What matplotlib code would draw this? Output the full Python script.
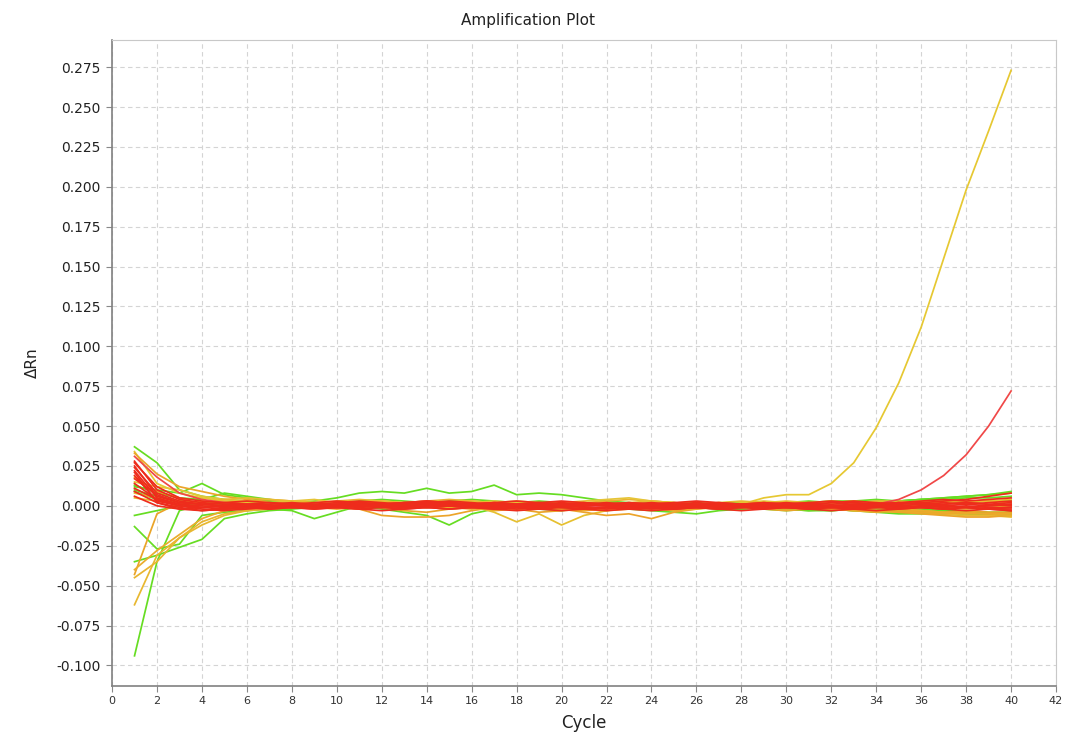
import numpy as np
import matplotlib
matplotlib.use("Agg")
import matplotlib.pyplot as plt

# cycles 1..40, delta Rn values in thousandths
cycles = list(range(1, 41))

green_curves = [
    [37, 27, 10, 6, 4, 3, 2, 1, 0, 1,
     2, 1, 0, 1, 0, -1, 0, 1, 0, -1,
     0, 1, 0, -1, 0, 1, 0, -1, 0, 1,
     1, 2, 2, 3, 3, 4, 5, 6, 7, 9],
    [-94, -35, -3, 1, 2, 1, 0, -1, 0, 1,
     0, -1, 1, 0, -1, 0, 1, 0, -1, 0,
     1, 0, -1, -2, -1, 0, -1, -2, -1, -2,
     -3, -2, -3, -4, -3, -4, -5, -5, -6, -6],
    [-35, -31, -26, -21, -8, -5, -3, -2, -1, 0,
     1, 0, 1, 2, 1, 0, 1, 2, 1, 0,
     1, 2, 1, 0, 1, 2, 1, 2, 1, 2,
     2, 3, 3, 2, 3, 4, 4, 5, 5, 6],
    [-13, -27, -24, -6, -4, -3, -2, -1, 0, 1,
     0, -1, 0, -1, 0, 1, 0, -1, 0, -1,
     -2, -1, 0, -1, -2, -1, -2, -1, -2, -3,
     -2, -3, -2, -3, -4, -3, -4, -4, -5, -4],
    [13, 8, 5, 4, 8, 6, 4, 2, 3, 5,
     8, 9, 8, 11, 8, 9, 13, 7, 8, 7,
     5, 3, 2, 1, 0, 1, 0, 1, 0, -1,
     0, -1, 0, -1, -2, -2, -3, -3, -4, -4],
    [9, 4, 2, 1, 0, -1, -2, -3, -8, -4,
     0, -2, -4, -6, -12, -5, -2, 0, -2, -3,
     -1, 0, -2, -3, -4, -5, -3, -2, -1, -2,
     -3, -3, -2, -4, -5, -5, -5, -6, -6, -6],
    [12, 10, 8, 14, 7, 5, 3, 2, 1, 0,
     1, 2, 1, 0, 1, 2, 1, 0, 1, 2,
     1, 0, 1, 2, 1, 0, 1, 2, 1, 2,
     3, 2, 3, 4, 3, 4, 5, 6, 7, 8],
    [-6, -3, 0, 2, 1, 0, -1, 0, 1, 0,
     -1, 0, 1, 0, -1, 0, 1, 0, -1, -2,
     -1, 0, -1, 0, 1, 0, -1, 0, 1, 0,
     -1, 0, 1, 2, 1, 2, 3, 2, 3, 3],
    [10, 6, 3, 2, 1, 2, 3, 2, 1, 2,
     3, 4, 3, 2, 3, 4, 3, 2, 3, 2,
     1, 2, 1, 0, -1, 0, -1, 0, 1, 0,
     -1, -2, -3, -2, -3, -4, -3, -4, -5, -5],
]

yellow_curves = [
    [34, 14, 8, 5, 3, 2, 1, 0, 1, 2,
     0, -1, 0, 1, 0, 1, 0, -1, 0, 1,
     0, 1, 0, -1, 0, 1, 0, 1, 5, 7,
     7, 14, 27, 49, 77, 112, 155, 198, 235, 273],
    [-62, -31, -20, -12, -6, -3, -1, 0, 1, 0,
     1, 2, 1, 0, 1, 2, 1, 0, 1, 0,
     -1, 0, 1, 0, -1, 0, 1, 0, -1, 0,
     -1, -2, -3, -3, -4, -4, -5, -6, -6, -7],
    [-43, -5, 2, 3, 2, 3, 4, 3, 2, 1,
     0, -1, -3, -4, -2, -1, -3, -2, -4, -3,
     -2, -3, -1, 0, 1, 0, 1, 0, -1, 0,
     -1, -2, -2, -3, -2, -3, -4, -3, -4, -4],
    [5, 3, 2, 1, 0, 1, 2, 1, 0, 1,
     2, 1, 0, 1, 2, 0, -4, -10, -5, -12,
     -6, -3, -2, -1, 0, -1, 0, -1, 0, 1,
     0, 1, 2, 1, 2, 3, 2, 3, 3, 4],
    [-45, -35, -20, -10, -5, -3, -2, -1, 0, 1,
     2, 3, 2, 3, 4, 3, 2, 3, 2, 1,
     2, 3, 4, 3, 2, 1, 2, 1, 2, 1,
     2, 1, 0, -1, 0, -1, -2, -1, -2, -1],
    [33, 20, 12, 9, 6, 4, 2, 1, 0, -1,
     -2, -6, -7, -7, -6, -3, -1, 0, -1, -2,
     -4, -6, -5, -8, -4, -2, 0, -1, -2, -3,
     -2, -1, -2, -3, -4, -5, -6, -7, -7, -6],
    [15, 12, 10, 6, 4, 3, 2, 3, 4, 2,
     1, 0, -1, 0, 1, 2, 3, 2, 1, 2,
     3, 4, 5, 3, 2, 1, 0, 2, 3, 2,
     1, 2, 3, 2, 1, 0, -1, -2, -1, 0],
    [-40, -28, -18, -8, -3, -1, 0, 1, 2, 1,
     0, 1, 0, -1, 0, 1, 0, -1, 0, 1,
     0, -1, 0, 1, 0, -1, 0, 1, 2, 1,
     0, -1, -2, -1, -2, -3, -4, -5, -5, -6],
    [8, 5, 3, 2, 4, 5, 4, 3, 2, 3,
     4, 3, 2, 1, 2, 3, 2, 1, 0, 1,
     2, 1, 2, 3, 2, 1, 2, 3, 2, 3,
     2, 3, 2, 3, 3, 2, 3, 2, 3, 2],
    [18, 9, 5, 1, -1, -2, -1, 0, -1, -2,
     -1, 0, 1, 0, -1, -2, -1, 0, -1, -2,
     -3, -2, -1, -2, -3, -2, -1, 0, -1, -2,
     -1, -2, -3, -4, -3, -4, -5, -4, -5, -5],
]
yellow_colors = ["#e6c832", "#e8b830", "#eaa428", "#e6c030", "#e8b430",
                 "#eca42a", "#e6c436", "#eaac2c", "#e8bc30", "#eca82a"]

red_curves = [
    [31, 18, 8, 4, 2, 1, 0, 1, 0, -1,
     0, 1, 0, -1, 0, 1, 0, -1, 0, 1,
     0, -1, 0, 1, 0, -1, 0, 1, 0, 0,
     1, 0, 1, 1, 4, 10, 19, 32, 50, 72],
    [28, 10, 4, 2, 1, 0, -1, 0, 1, 0,
     -1, 0, 1, 2, 1, 0, -1, 0, 1, 0,
     -1, -2, -1, 0, 1, 0, -1, 0, 1, 0,
     -1, 0, 1, 0, -1, 0, 1, 2, 1, 2],
    [25, 6, 2, 1, 0, 1, 2, 1, 0, -1,
     0, 1, 2, 3, 2, 1, 2, 3, 2, 1,
     0, 1, 2, 1, 0, 1, 0, -1, 0, -1,
     0, -1, 0, 1, 0, -1, -2, -1, -2, -3],
    [22, 5, 1, -1, -2, -1, 0, -1, -2, -1,
     0, -1, -2, -1, 0, -1, -2, -3, -2, -1,
     -2, -1, 0, -1, -2, -1, -2, -1, 0, -1,
     -2, -1, -2, -1, -2, -1, -2, -3, -2, -3],
    [19, 3, 0, -2, -3, -2, -1, 0, -1, 0,
     1, 0, -1, 0, 1, 0, -1, -2, -1, 0,
     1, 0, -1, -2, -1, 0, 1, 0, -1, 0,
     1, 0, -1, 0, 1, 2, 3, 4, 6, 8],
    [11, 4, 1, 0, -1, 0, 1, 2, 1, 2,
     3, 2, 1, 2, 3, 2, 1, 0, 1, 2,
     1, 0, 1, 2, 1, 2, 1, 0, 1, 2,
     1, 2, 3, 2, 1, 2, 1, 2, 1, 0],
    [9, 2, -1, -3, -2, -1, 0, -1, 0, 1,
     0, -1, 0, -1, -2, -1, 0, -1, 0, -1,
     -2, -3, -2, -1, 0, -1, -2, -1, 0, -1,
     -2, -1, 0, -1, 0, 1, 0, 1, 0, 1],
    [6, 0, -2, -3, -2, -1, -2, -1, 0, 1,
     2, 1, 0, 1, 2, 1, 0, 1, 0, -1,
     0, 1, 0, -1, -2, -1, 0, 1, 0, 1,
     0, -1, 0, 1, 2, 1, 0, -1, -2, -2],
    [21, 2, -2, -1, 0, 1, 0, -1, 0, 1,
     2, 1, 2, 1, 0, 1, 2, 1, 0, 1,
     2, 1, 0, 1, 2, 3, 2, 1, 2, 1,
     2, 3, 2, 1, 2, 3, 4, 3, 4, 5],
    [24, 8, 3, 1, 0, -1, 0, 1, 0, -1,
     -2, -1, 0, 1, 0, -1, 0, 1, 2, 1,
     0, 1, 0, -1, 0, 1, 0, -1, -2, -1,
     0, -1, -2, -1, 0, -1, 0, -1, 0, 1],
    [27, 12, 5, 3, 2, 3, 2, 1, 2, 3,
     2, 1, 2, 3, 2, 1, 2, 1, 2, 3,
     2, 1, 2, 1, 2, 1, 2, 1, 2, 1,
     2, 1, 2, 1, 2, 1, 2, 1, 2, 3],
    [14, 4, 0, -1, 0, -1, -2, -1, -2, -1,
     -2, -3, -2, -1, -2, -1, -2, -1, -2, -3,
     -2, -1, -2, -3, -2, -1, -2, -3, -2, -1,
     -2, -3, -2, -3, -2, -1, -2, -1, -2, -1],
    [17, 7, 2, 1, 2, 1, 0, 1, 0, 0,
     1, 0, -1, 0, 1, 0, 1, 0, -1, 0,
     1, 2, 1, 0, -1, 0, 1, 0, -1, 0,
     1, 0, -1, 0, -1, 0, -1, 0, -1, -1],
]
red_colors = ["#f04848"] + ["#ee2c1c"] * 12

x_ticks = list(range(0, 43, 2))
y_ticks = [-0.100, -0.075, -0.050, -0.025, 0.000, 0.025, 0.050, 0.075,
           0.100, 0.125, 0.150, 0.175, 0.200, 0.225, 0.250, 0.275]

fig = plt.figure(figsize=(10.68, 7.42), dpi=100)
ax = fig.add_axes([0.1049, 0.0755, 0.8839, 0.8706])

for vals in green_curves:
    ax.plot(cycles, np.array(vals) / 1000, color="#66dd22", lw=1.25)
for vals, c in zip(yellow_curves, yellow_colors):
    ax.plot(cycles, np.array(vals) / 1000, color=c, lw=1.25)
for vals, c in zip(red_curves, red_colors):
    ax.plot(cycles, np.array(vals) / 1000, color=c, lw=1.25)

ax.set_xlim(0, 42)
ax.set_ylim(-0.1129, 0.2920)
ax.set_xticks(x_ticks)
ax.set_yticks(y_ticks)
ax.set_yticklabels([f"{v:.3f}" for v in y_ticks])
ax.tick_params(axis="x", labelsize=8, length=4, color="#888888", labelcolor="#333333", pad=3)
ax.tick_params(axis="y", labelsize=10, length=4, color="#888888", labelcolor="#222222", pad=4)

ax.grid(True, color="#d4d4d4", linestyle=(0, (4, 3)), linewidth=0.8)
ax.set_axisbelow(True)
for side in ["top", "right"]:
    ax.spines[side].set_color("#c8c8c8")
for side in ["left", "bottom"]:
    ax.spines[side].set_color("#808080")
    ax.spines[side].set_linewidth(1.2)

ax.set_xlabel("Cycle", fontsize=12, color="#222222", labelpad=6)
ax.set_ylabel("ΔRn", fontsize=11, color="#222222", labelpad=12)
fig.text(0.494, 0.973, "Amplification Plot", ha="center", va="center",
         fontsize=11, color="#222222")

fig.savefig("out.png", dpi=100)
